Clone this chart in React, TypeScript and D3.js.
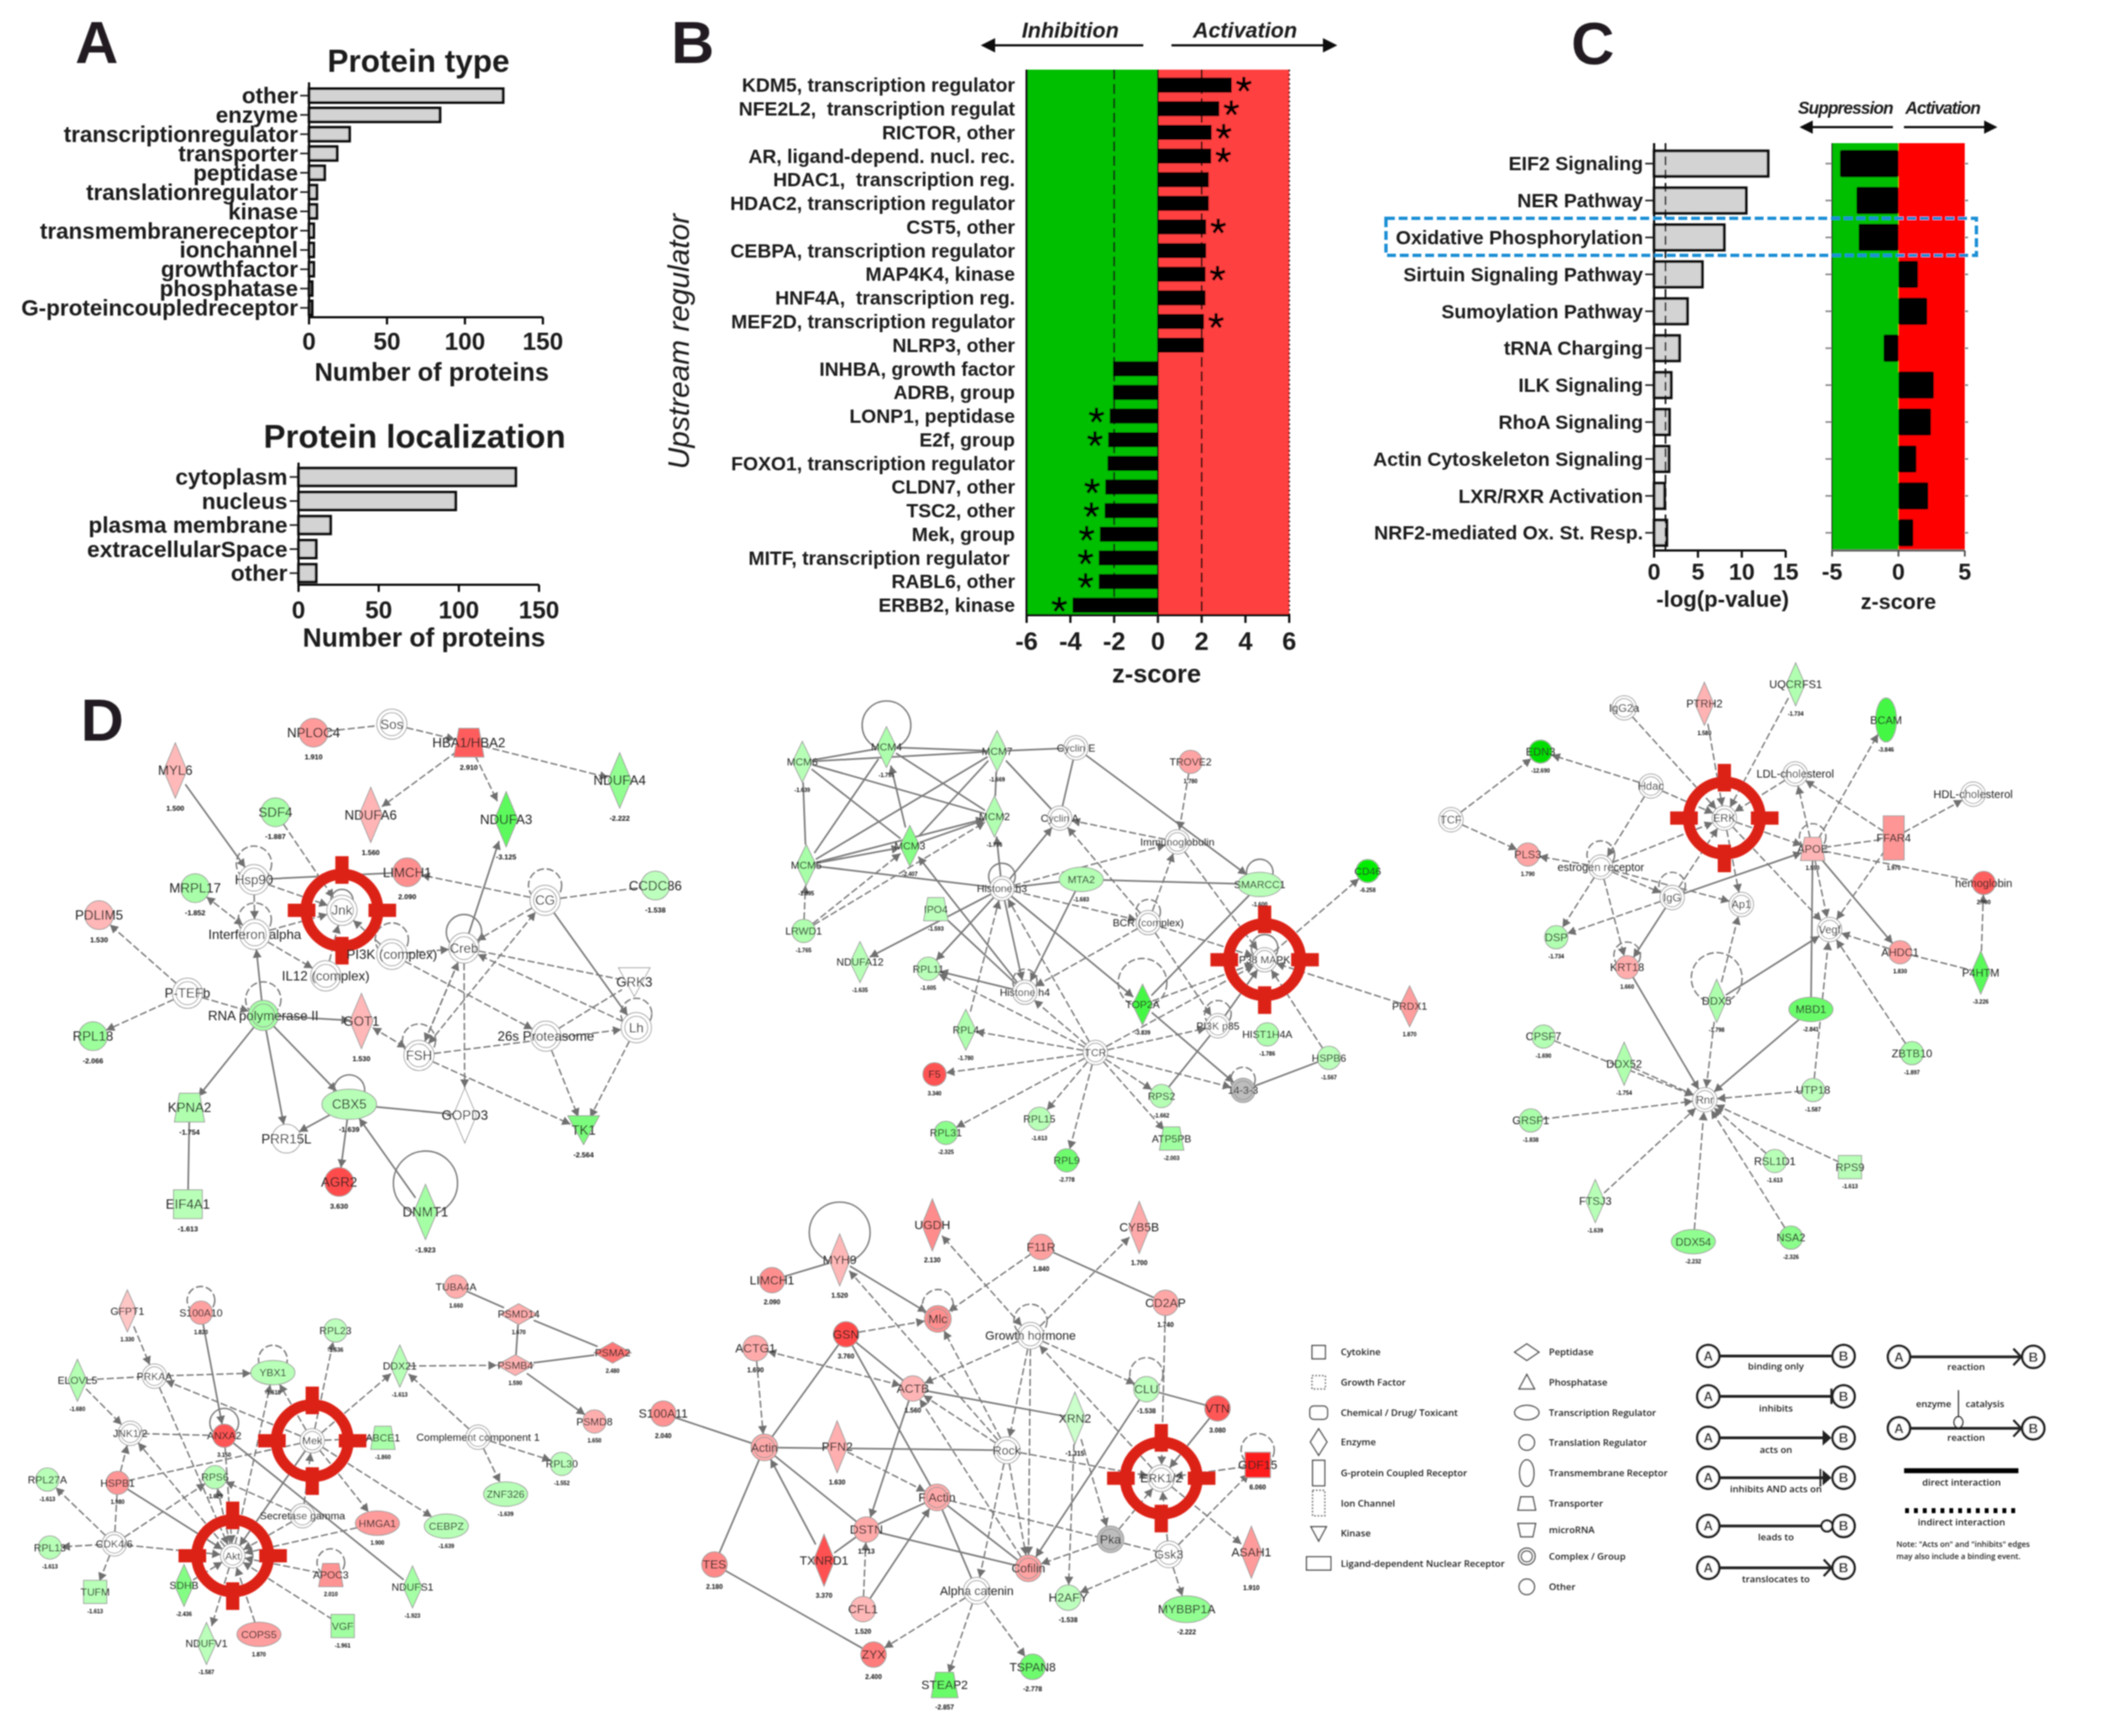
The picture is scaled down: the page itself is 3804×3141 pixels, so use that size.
import * as d3 from "d3";

const SANS = "'Liberation Sans', Arial, sans-serif";

// panel A
const typeLabels = ["other", "enzyme", "transcriptionregulator", "transporter", "peptidase", "translationregulator", "kinase", "transmembranereceptor", "ionchannel", "growthfactor", "phosphatase", "G-proteincoupledreceptor"];
const typeCounts = [124.5, 84, 26, 18, 10, 5, 5, 3, 3, 3, 2, 2];
const locLabels = ["cytoplasm", "nucleus", "plasma membrane", "extracellularSpace", "other"];
const locCounts = [135.5, 98, 20, 11, 11];
const countTicks = [0, 50, 100, 150];

// panel B
const regLabels = ["KDM5, transcription regulator", "NFE2L2,  transcription regulat", "RICTOR, other", "AR, ligand-depend. nucl. rec.", "HDAC1,  transcription reg.", "HDAC2, transcription regulator", "CST5, other", "CEBPA, transcription regulator", "MAP4K4, kinase", "HNF4A,  transcription reg.", "MEF2D, transcription regulator", "NLRP3, other", "INHBA, growth factor", "ADRB, group", "LONP1, peptidase", "E2f, group", "FOXO1, transcription regulator", "CLDN7, other", "TSC2, other", "Mek, group", "MITF, transcription regulator ", "RABL6, other", "ERBB2, kinase"];
const regZ = [3.37, 2.8, 2.45, 2.43, 2.32, 2.32, 2.2, 2.2, 2.17, 2.17, 2.1, 2.1, -2.05, -2.05, -2.2, -2.27, -2.3, -2.4, -2.43, -2.65, -2.7, -2.7, -3.9];
const regSig = [1, 1, 1, 1, 0, 0, 1, 0, 1, 0, 1, 0, 0, 0, 1, 1, 0, 1, 1, 1, 1, 1, 1];
const zTicksB = [-6, -4, -2, 0, 2, 4, 6];

// panel C
const pathLabels = ["EIF2 Signaling", "NER Pathway", "Oxidative Phosphorylation", "Sirtuin Signaling Pathway", "Sumoylation Pathway", "tRNA Charging", "ILK Signaling", "RhoA Signaling", "Actin Cytoskeleton Signaling", "LXR/RXR Activation", "NRF2-mediated Ox. St. Resp."];
const pathLogP = [13, 10.5, 8, 5.5, 3.8, 2.9, 1.95, 1.75, 1.7, 1.2, 1.45];
const pathZ = [-4.4, -3.16, -3, 1.47, 2.17, -1.12, 2.67, 2.45, 1.35, 2.25, 1.12];
const logTicks = [0, 5, 10, 15];
const zTicksC = [-5, 0, 5];

type N = [string, number | null, string, number, number];
type E = [string, string, string];
type L = [string, string, number];

const net1Nodes: N[] = [
  ["NPLOC4", 1.91, "c", 637, 113], ["Sos", 0, "g", 830, 90], ["HBA1/HBA2", 2.91, "t", 1020, 140], ["MYL6", 1.5, "d", 296, 215], ["NDUFA4", -2.222, "d", 1392, 242],
  ["SDF4", -1.887, "c", 543, 328], ["NDUFA6", 1.56, "d", 778, 335], ["NDUFA3", -3.125, "d", 1112, 347], ["LIMCH1", 2.09, "c", 868, 490], ["Hsp90", 0, "g", 490, 510],
  ["MRPL17", -1.852, "c", 345, 533], ["CCDC86", -1.538, "c", 1480, 526], ["CG", 0, "g", 1208, 566], ["Jnk", 0, "g", 707, 593], ["PDLIM5", 1.53, "c", 108, 606],
  ["Interferon alpha", 0, "g", 492, 658], ["PI3K (complex)", 0, "g", 830, 712], ["Creb", 0, "g", 1008, 695], ["IL12 (complex)", 0, "g", 667, 770], ["GRK3", 0, "k", 1428, 787],
  ["P-TEFb", 0, "g", 326, 817], ["RNA polymerase II", -1.9, "g", 513, 877], ["GOT1", 1.53, "d", 755, 892], ["FSH", 0, "g", 897, 985], ["26s Proteasome", 0, "g", 1210, 933],
  ["Lh", 0, "g", 1433, 910], ["RPL18", -2.066, "c", 93, 933], ["KPNA2", -1.754, "t", 331, 1126], ["CBX5", -1.639, "e", 725, 1117], ["GOPD3", 0, "d", 1010, 1147],
  ["TK1", -2.564, "k", 1303, 1187], ["PRR15L", 0, "c", 570, 1210], ["AGR2", 3.63, "c", 700, 1327], ["EIF4A1", -1.613, "s", 327, 1387], ["DNMT1", -1.923, "d", 913, 1408],
];
const net1Edges: E[] = [
  ["NPLOC4", "Sos", "d"], ["Sos", "HBA1/HBA2", "d>"], ["HBA1/HBA2", "NDUFA4", "d>"], ["HBA1/HBA2", "NDUFA6", "d>"], ["HBA1/HBA2", "NDUFA3", "d>"], ["MYL6", "Hsp90", "s>"],
  ["SDF4", "Jnk", "d>"], ["Hsp90", "LIMCH1", "s"], ["Hsp90", "Jnk", "d>"], ["CG", "LIMCH1", "d>"], ["CG", "CCDC86", "d"], ["CG", "Creb", "d>"], ["Creb", "NDUFA3", "s>"],
  ["Interferon alpha", "Jnk", "d>"], ["Hsp90", "Interferon alpha", "d>"], ["Interferon alpha", "MRPL17", "d<>"], ["Interferon alpha", "IL12 (complex)", "d>"], ["PI3K (complex)", "Jnk", "d>"],
  ["PI3K (complex)", "Creb", "d>"], ["IL12 (complex)", "Jnk", "d>"], ["RNA polymerase II", "Interferon alpha", "s>"], ["P-TEFb", "PDLIM5", "d>"], ["P-TEFb", "RPL18", "d>"],
  ["P-TEFb", "RNA polymerase II", "d>"], ["RNA polymerase II", "GOT1", "s>"], ["RNA polymerase II", "KPNA2", "s>"], ["RNA polymerase II", "PRR15L", "s>"], ["RNA polymerase II", "CBX5", "s>"],
  ["CBX5", "PRR15L", "s>"], ["CBX5", "AGR2", "s>"], ["CBX5", "GOPD3", "s"], ["DNMT1", "CBX5", "s>"], ["KPNA2", "EIF4A1", "s"], ["GOT1", "FSH", "d<>"], ["FSH", "Creb", "d>"],
  ["Creb", "FSH", "d>"], ["FSH", "CG", "d<>"], ["FSH", "Lh", "d>"], ["FSH", "TK1", "d>"], ["Creb", "GOPD3", "d>"], ["Creb", "GRK3", "d"], ["PI3K (complex)", "26s Proteasome", "d>"],
  ["Lh", "Creb", "d>"], ["26s Proteasome", "GRK3", "d"], ["26s Proteasome", "TK1", "d>"], ["Lh", "TK1", "d>"], ["CG", "Lh", "s>"],
];
const net1Loops: L[] = [["Hsp90", "d", 32], ["Interferon alpha", "d", 30], ["Jnk", "s", 20], ["PI3K (complex)", "d", 30], ["Creb", "s", 32], ["CG", "d", 30], ["RNA polymerase II", "d", 32], ["FSH", "d", 30], ["Lh", "d", 28], ["CBX5", "s", 28], ["DNMT1", "s", 58]];

const net2Nodes: N[] = [
  ["MCM6", -1.639, "d", 127, 212], ["MCM4", -1.795, "d", 318, 168], ["MCM7", -1.669, "d", 569, 180], ["Cyclin E", 0, "g", 748, 170], ["TROVE2", 1.78, "c", 1008, 212],
  ["MCM2", -1.736, "d", 563, 375], ["Cyclin A", 0, "g", 711, 380], ["Immunoglobulin", 0, "g", 978, 451], ["MCM5", -1.895, "d", 136, 520], ["MCM3", -2.407, "d", 371, 463],
  ["Histone h3", 0, "g", 580, 590], ["MTA2", -1.683, "e", 760, 563], ["SMARCC1", -1.6, "e", 1165, 578], ["CD46", -6.258, "c", 1410, 538], ["IPO4", -1.593, "t", 430, 652],
  ["LRWD1", -1.765, "c", 130, 717], ["BCR (complex)", 0, "g", 912, 692], ["P38 MAPK", 0, "g", 1176, 803], ["NDUFA12", -1.635, "d", 258, 810], ["RPL11", -1.605, "c", 413, 830],
  ["Histone h4", 0, "g", 632, 900], ["TOP2A", -3.839, "d", 899, 937], ["PRDX1", 1.87, "d", 1505, 942], ["RPL4", -1.78, "d", 498, 1012], ["PI3K p85", 0, "g", 1070, 1000],
  ["HIST1H4A", -1.786, "c", 1182, 1026], ["TCR", 0, "g", 792, 1080], ["HSPB6", -1.567, "c", 1322, 1096], ["F5", 3.34, "c", 427, 1145], ["14-3-3", null, "g", 1127, 1193],
  ["RPS2", -1.662, "c", 942, 1210], ["RPL15", -1.613, "c", 665, 1278], ["RPL31", -2.325, "c", 453, 1320], ["ATP5PB", -2.003, "t", 965, 1337], ["RPL9", -2.778, "c", 727, 1402],
];
const net2Edges: E[] = [
  ["MCM6", "MCM4", "s"], ["MCM6", "MCM7", "s"], ["MCM4", "MCM7", "s"], ["MCM7", "Cyclin E", "s"], ["MCM6", "MCM5", "s"], ["MCM6", "MCM3", "s"], ["MCM6", "MCM2", "s"], ["MCM4", "MCM5", "s"],
  ["MCM4", "MCM2", "s"], ["MCM5", "MCM3", "s>"], ["MCM5", "MCM7", "s"], ["MCM5", "MCM2", "s>"], ["MCM3", "MCM7", "s"], ["MCM3", "MCM2", "s>"], ["MCM3", "MCM4", "s>"], ["MCM7", "MCM2", "s"],
  ["MCM7", "Cyclin A", "s"], ["Cyclin E", "Cyclin A", "s"], ["Cyclin E", "SMARCC1", "s>"], ["MCM5", "Histone h3", "s"], ["LRWD1", "MCM5", "d>"], ["LRWD1", "MCM3", "d>"], ["LRWD1", "MCM2", "d>"],
  ["Histone h3", "MCM2", "s>"], ["Histone h3", "Cyclin A", "s>"], ["Histone h3", "MTA2", "s"], ["MTA2", "SMARCC1", "s"], ["MTA2", "Histone h4", "s>"], ["Histone h3", "Immunoglobulin", "d>"],
  ["Histone h3", "BCR (complex)", "d>"], ["BCR (complex)", "Immunoglobulin", "d>"], ["BCR (complex)", "Cyclin A", "d>"], ["Immunoglobulin", "Cyclin A", "d>"], ["TROVE2", "Immunoglobulin", "d>"],
  ["Immunoglobulin", "P38 MAPK", "d>"], ["SMARCC1", "TOP2A", "s"], ["BCR (complex)", "P38 MAPK", "d>"], ["BCR (complex)", "Histone h4", "d>"], ["P38 MAPK", "CD46", "d>"], ["PRDX1", "P38 MAPK", "d>"],
  ["Histone h3", "NDUFA12", "s>"], ["Histone h3", "RPL11", "s>"], ["Histone h3", "Histone h4", "s>"], ["Histone h3", "TOP2A", "s>"], ["Histone h4", "MCM3", "s>"], ["IPO4", "Histone h4", "s"],
  ["Histone h4", "RPL11", "s>"], ["TCR", "RPL11", "d>"], ["TCR", "Histone h4", "d>"], ["TCR", "Histone h3", "d>"], ["RPL4", "Histone h3", "d>"], ["TCR", "RPL4", "d>"], ["TCR", "F5", "d>"],
  ["TCR", "RPL31", "d>"], ["TCR", "RPL15", "d>"], ["TCR", "RPL9", "d>"], ["TCR", "ATP5PB", "d>"], ["TCR", "RPS2", "d>"], ["TCR", "14-3-3", "d>"], ["TCR", "PI3K p85", "d>"], ["TCR", "P38 MAPK", "d>"],
  ["TOP2A", "P38 MAPK", "d>"], ["TOP2A", "14-3-3", "s>"], ["PI3K p85", "P38 MAPK", "s>"], ["BCR (complex)", "PI3K p85", "d>"], ["RPS2", "PI3K p85", "s"], ["HSPB6", "14-3-3", "s"], ["HSPB6", "P38 MAPK", "d>"],
];
const net2Loops: L[] = [["MCM4", "s", 44], ["Histone h3", "s", 24], ["SMARCC1", "s", 24], ["BCR (complex)", "d", 22], ["P38 MAPK", "s", 24], ["Histone h4", "d", 22], ["TOP2A", "d", 44], ["PI3K p85", "d", 24], ["14-3-3", "d", 22]];

const net3Nodes: N[] = [
  ["UQCRFS1", -1.734, "d", 844, 52], ["PTRH2", 1.58, "d", 629, 100], ["IgG2a", 0, "g", 440, 110], ["BCAM", -3.846, "m", 1057, 140], ["EDN3", -12.69, "c", 243, 218],
  ["Hdac", 0, "g", 503, 303], ["LDL-cholesterol", 0, "g", 843, 273], ["HDL-cholesterol", 0, "g", 1262, 323], ["TCF", 0, "g", 32, 386], ["ERK", 0, "g", 676, 382],
  ["FFAR4", 1.97, "r", 1075, 431], ["APOE", 1.55, "t", 884, 458], ["PLS3", 1.79, "c", 213, 472], ["estrogen receptor", 0, "g", 385, 503], ["IgG", 0, "g", 553, 578],
  ["hemoglobin", 2.9, "c", 1287, 542], ["Ap1", 0, "g", 716, 595], ["DSP", -1.734, "c", 280, 676], ["Vegf", 0, "g", 924, 657], ["AHDC1", 1.83, "c", 1090, 713],
  ["KRT18", 1.66, "c", 447, 750], ["P4HTM", -3.226, "d", 1280, 763], ["DDX5", -1.798, "d", 658, 833], ["MBD1", -2.841, "e", 880, 854], ["CPSF7", -1.69, "c", 250, 921],
  ["ZBTB10", -1.897, "c", 1118, 962], ["DDX52", -1.754, "d", 440, 988], ["UTP18", -1.587, "c", 885, 1053], ["Rnr", 0, "g", 630, 1077], ["GRSF1", -1.838, "c", 220, 1128],
  ["RSL1D1", -1.613, "c", 795, 1228], ["RPS9", -1.613, "s", 972, 1243], ["FTSJ3", -1.639, "d", 372, 1327], ["DDX54", -2.232, "e", 603, 1427], ["NSA2", -2.326, "c", 833, 1417],
];
const net3Edges: E[] = [
  ["IgG2a", "ERK", "d>"], ["PTRH2", "ERK", "d>"], ["UQCRFS1", "ERK", "d>"], ["Hdac", "EDN3", "d>"], ["TCF", "EDN3", "d>"], ["TCF", "PLS3", "d>"], ["Hdac", "ERK", "d>"], ["Hdac", "estrogen receptor", "d>"],
  ["LDL-cholesterol", "ERK", "d>"], ["APOE", "LDL-cholesterol", "d>"], ["FFAR4", "LDL-cholesterol", "d>"], ["FFAR4", "HDL-cholesterol", "d>"], ["APOE", "FFAR4", "d"], ["APOE", "BCAM", "d>"],
  ["ERK", "APOE", "d>"], ["ERK", "Vegf", "d>"], ["ERK", "Ap1", "d>"], ["FFAR4", "Vegf", "d>"], ["APOE", "Vegf", "d>"], ["APOE", "AHDC1", "s>"], ["APOE", "hemoglobin", "d"], ["estrogen receptor", "ERK", "d>"],
  ["estrogen receptor", "PLS3", "d>"], ["estrogen receptor", "IgG", "d>"], ["estrogen receptor", "Ap1", "d>"], ["estrogen receptor", "DSP", "d>"], ["estrogen receptor", "KRT18", "d>"], ["IgG", "ERK", "d>"],
  ["IgG", "APOE", "s>"], ["IgG", "DSP", "d>"], ["IgG", "KRT18", "s>"], ["DDX5", "Ap1", "d>"], ["DDX5", "Vegf", "s>"], ["DDX5", "Rnr", "d>"], ["KRT18", "Rnr", "s>"], ["MBD1", "APOE", "s"], ["MBD1", "Rnr", "s>"],
  ["UTP18", "Vegf", "d>"], ["UTP18", "Rnr", "d>"], ["ZBTB10", "Vegf", "d>"], ["AHDC1", "Vegf", "d>"], ["AHDC1", "P4HTM", "d"], ["P4HTM", "hemoglobin", "d>"], ["CPSF7", "Rnr", "d>"], ["DDX52", "Rnr", "d>"],
  ["GRSF1", "Rnr", "d>"], ["FTSJ3", "Rnr", "d>"], ["DDX54", "Rnr", "d>"], ["NSA2", "Rnr", "d>"], ["RSL1D1", "Rnr", "d>"], ["RPS9", "Rnr", "d>"],
];
const net3Loops: L[] = [["estrogen receptor", "d", 25], ["IgG", "d", 24], ["KRT18", "d", 24], ["DDX5", "d", 46], ["APOE", "d", 24]];

const net4Nodes: N[] = [
  ["GFPT1", 1.33, "d", 301, 134], ["S100A10", 1.82, "c", 475, 140], ["RPL23", -1.536, "c", 793, 200], ["TUBA4A", 1.66, "c", 1078, 52], ["PSMD14", 1.67, "w", 1226, 145],
  ["PSMA2", 2.48, "w", 1448, 275], ["PSMB4", 1.59, "w", 1218, 317], ["DDX21", -1.613, "d", 945, 320], ["PRKAA", 0, "g", 365, 354], ["ELOVL5", -1.68, "d", 183, 368],
  ["YBX1", -1.618, "e", 645, 342], ["JNK1/2", 0, "g", 308, 547], ["ANXA2", 3.15, "c", 530, 555], ["Mek", 0, "g", 738, 572], ["ABCE1", -1.86, "t", 905, 562],
  ["Complement component 1", 0, "g", 1130, 560], ["PSMD8", 1.65, "c", 1405, 507], ["RPL30", -1.552, "c", 1328, 650], ["RPL27A", -1.613, "c", 112, 703], ["HSPB1", 1.98, "c", 278, 714],
  ["RPS6", -1.629, "c", 508, 695], ["ZNF326", -1.639, "e", 1195, 752], ["Secretase gamma", 0, "g", 715, 825], ["HMGA1", 1.9, "e", 892, 850], ["CEBPZ", -1.639, "e", 1055, 860],
  ["CDK4/6", 0, "g", 270, 920], ["RPL13", -1.613, "c", 118, 932], ["Akt", 0, "g", 550, 960], ["APOC3", 2.01, "t", 782, 1025], ["SDHB", -2.436, "d", 435, 1060],
  ["NDUFS1", -1.923, "d", 975, 1065], ["TUFM", -1.613, "s", 225, 1082], ["VGF", -1.961, "s", 810, 1197], ["COPS5", 1.87, "e", 612, 1225], ["NDUFV1", -1.587, "d", 488, 1256],
];
const net4Edges: E[] = [
  ["GFPT1", "PRKAA", "d>"], ["S100A10", "ANXA2", "s>"], ["ELOVL5", "PRKAA", "d"], ["PRKAA", "YBX1", "d>"], ["Mek", "YBX1", "d>"], ["Mek", "PRKAA", "d>"], ["Mek", "RPL23", "d>"], ["Mek", "DDX21", "d>"],
  ["Mek", "ABCE1", "d"], ["Mek", "HMGA1", "d>"], ["Mek", "CEBPZ", "d>"], ["ELOVL5", "JNK1/2", "d>"], ["JNK1/2", "ANXA2", "d"], ["PRKAA", "Akt", "d>"], ["ANXA2", "NDUFS1", "s"], ["ANXA2", "Akt", "d>"],
  ["Mek", "HSPB1", "d"], ["HSPB1", "JNK1/2", "d>"], ["Mek", "Akt", "s>"], ["Akt", "JNK1/2", "d>"], ["Akt", "YBX1", "d>"], ["Akt", "RPS6", "d>"], ["Secretase gamma", "RPS6", "d>"], ["Secretase gamma", "Mek", "d>"],
  ["Secretase gamma", "Akt", "d>"], ["CDK4/6", "RPL27A", "d>"], ["CDK4/6", "RPL13", "d>"], ["CDK4/6", "TUFM", "d>"], ["CDK4/6", "HSPB1", "d"], ["CDK4/6", "RPS6", "d>"], ["CDK4/6", "Akt", "d>"], ["HSPB1", "Akt", "s>"],
  ["HMGA1", "Akt", "d>"], ["APOC3", "Akt", "d>"], ["SDHB", "Akt", "d>"], ["Akt", "NDUFV1", "d>"], ["COPS5", "Akt", "d>"], ["VGF", "Akt", "d>"], ["Complement component 1", "DDX21", "d>"],
  ["Complement component 1", "RPL30", "d>"], ["Complement component 1", "ZNF326", "d>"], ["DDX21", "PSMB4", "d>"], ["TUBA4A", "PSMD14", "s"], ["PSMD14", "PSMA2", "s"], ["PSMD14", "PSMB4", "s"], ["PSMB4", "PSMA2", "s"], ["PSMB4", "PSMD8", "s>"],
];
const net4Loops: L[] = [["S100A10", "d", 25], ["YBX1", "d", 26], ["ANXA2", "s", 26], ["APOC3", "d", 25]];

const net5Nodes: N[] = [
  ["UGDH", 2.13, "d", 701, 105], ["F11R", 1.84, "c", 958, 168], ["CYB5B", 1.7, "d", 1190, 112], ["MYH9", 1.52, "d", 482, 205], ["LIMCH1", 2.09, "c", 322, 263], ["CD2AP", 1.74, "c", 1252, 328],
  ["Mlc", 2.1, "g", 714, 374], ["GSN", 3.76, "c", 497, 418], ["Growth hormone", 0, "g", 933, 422], ["ACTG1", 1.69, "c", 283, 458], ["ACTB", 1.56, "c", 655, 573], ["CLU", -1.538, "c", 1207, 575],
  ["VTN", 3.08, "c", 1375, 630], ["S100A11", 2.04, "c", 65, 645], ["XRN2", -1.315, "d", 1038, 658], ["Actin", 1.7, "g", 304, 742], ["PFN2", 1.63, "d", 476, 740], ["Rock", 0, "g", 877, 750],
  ["ERK1/2", 0, "g", 1242, 830], ["GDF15", 6.06, "s", 1470, 792], ["F Actin", 1.7, "g", 712, 885], ["DSTN", 1.713, "c", 545, 977], ["Pka", null, "g", 1122, 1005], ["Gsk3", 0, "g", 1260, 1048],
  ["ASAH1", 1.91, "d", 1455, 1042], ["TES", 2.18, "c", 186, 1077], ["TXNRD1", 3.37, "d", 445, 1065], ["Cofilin", 1.8, "g", 928, 1088], ["Alpha catenin", 0, "g", 806, 1152], ["H2AFY", -1.538, "c", 1022, 1172],
  ["CFL1", 1.52, "c", 537, 1205], ["MYBBP1A", -2.222, "e", 1302, 1205], ["ZYX", 2.4, "c", 562, 1335], ["TSPAN8", -2.778, "c", 938, 1370], ["STEAP2", -2.857, "t", 730, 1422],
];
const net5Edges: E[] = [
  ["LIMCH1", "MYH9", "s"], ["MYH9", "Mlc", "s>"], ["Rock", "MYH9", "d>"], ["Growth hormone", "UGDH", "d<>"], ["Growth hormone", "CYB5B", "d>"], ["F11R", "Mlc", "d>"], ["F11R", "CD2AP", "s"], ["GSN", "Mlc", "d>"],
  ["Rock", "Mlc", "d>"], ["Growth hormone", "ACTB", "d>"], ["Growth hormone", "CLU", "d>"], ["Growth hormone", "Rock", "d>"], ["Growth hormone", "Cofilin", "d>"], ["ERK1/2", "Growth hormone", "d>"],
  ["ACTG1", "ACTB", "d<>"], ["ACTG1", "Actin", "d>"], ["GSN", "Actin", "s"], ["GSN", "ACTB", "s"], ["GSN", "F Actin", "s"], ["S100A11", "Actin", "s"], ["Actin", "Rock", "s"], ["ACTB", "DSTN", "s>"], ["ACTB", "XRN2", "s"],
  ["Rock", "ACTB", "d>"], ["Cofilin", "ACTB", "d>"], ["Actin", "DSTN", "s"], ["TXNRD1", "Actin", "s>"], ["TES", "Actin", "s"], ["TES", "ZYX", "s"], ["PFN2", "F Actin", "d>"], ["DSTN", "F Actin", "s"], ["DSTN", "TXNRD1", "s"],
  ["DSTN", "Cofilin", "s"], ["F Actin", "Cofilin", "s"], ["F Actin", "Alpha catenin", "s"], ["CFL1", "DSTN", "d>"], ["CFL1", "F Actin", "s>"], ["Rock", "Alpha catenin", "d>"], ["Rock", "Cofilin", "d>"], ["Rock", "ERK1/2", "d>"],
  ["CD2AP", "ERK1/2", "d>"], ["CLU", "VTN", "s"], ["VTN", "ERK1/2", "s>"], ["CLU", "Cofilin", "s>"], ["XRN2", "Pka", "d>"], ["XRN2", "H2AFY", "d>"], ["Pka", "ERK1/2", "d>"], ["Pka", "Cofilin", "d>"], ["F Actin", "Gsk3", "d"],
  ["Gsk3", "ERK1/2", "d>"], ["Gsk3", "GDF15", "d>"], ["GDF15", "ERK1/2", "d>"], ["ERK1/2", "ASAH1", "d>"], ["Gsk3", "H2AFY", "d>"], ["Gsk3", "MYBBP1A", "d>"], ["Alpha catenin", "ZYX", "d>"], ["Alpha catenin", "STEAP2", "d>"], ["Alpha catenin", "TSPAN8", "d>"],
];
const net5Loops: L[] = [["MYH9", "s", 55], ["Mlc", "d", 28], ["Growth hormone", "d", 30], ["CLU", "d", 30], ["GDF15", "d", 30]];

const networks = [
  { nodes: net1Nodes, edges: net1Edges, loops: net1Loops, targets: ["Jnk"], box: [100, 1250, 1150, 1050], font: 24, valueFont: 13, r: 26, dw: 21, dh: 50 },
  { nodes: net2Nodes, edges: net2Edges, loops: net2Loops, targets: ["P38 MAPK"], box: [1350, 1250, 1250, 950], font: 19, valueFont: 10, r: 21, dw: 18, dh: 37 },
  { nodes: net3Nodes, edges: net3Edges, loops: net3Loops, targets: ["ERK"], box: [2600, 1200, 1204, 1150], font: 20, valueFont: 10, r: 21, dw: 17, dh: 39 },
  { nodes: net4Nodes, edges: net4Edges, loops: net4Loops, targets: ["Mek", "Akt"], box: [0, 2300, 1200, 841], font: 19, valueFont: 10, r: 21, dw: 17, dh: 38 },
  { nodes: net5Nodes, edges: net5Edges, loops: net5Loops, targets: ["ERK1/2"], box: [1150, 2150, 1200, 991], font: 22, valueFont: 12, r: 23, dw: 19, dh: 47 },
];

// legend
const legendShapes = [
  ["Cytokine", "s", 38, 135], ["Growth Factor", "sd", 38, 293], ["Chemical / Drug/ Toxicant", "rr", 38, 453], ["Enzyme", "d", 38, 607], ["G-protein Coupled Receptor", "r", 38, 770],
  ["Ion Channel", "rd", 38, 928], ["Kinase", "k", 38, 1087], ["Ligand-dependent Nuclear Receptor", "wr", 38, 1245], ["Peptidase", "w", 444, 135], ["Phosphatase", "tri", 444, 293],
  ["Transcription Regulator", "e", 444, 452], ["Translation Regulator", "c", 444, 610], ["Transmembrane Receptor", "m", 444, 770], ["Transporter", "t", 444, 930], ["microRNA", "u", 444, 1070],
  ["Complex / Group", "g", 444, 1208], ["Other", "c", 444, 1368],
] as [string, string, number, number][];
const legendLinks = [
  ["binding only", "none", 798, 1062, 155, 210], ["inhibits", "bar", 798, 1062, 367, 430], ["acts on", "arrow", 798, 1062, 585, 647], ["inhibits AND acts on", "bararrow", 798, 1062, 795, 853],
  ["leads to", "ring", 798, 1062, 1048, 1107], ["translocates to", "cross", 798, 1062, 1268, 1327], ["reaction", "x", 1170, 1432, 160, 213], ["reaction", "x", 1170, 1432, 535, 585],
] as [string, string, number, number, number, number][];
const legendNote = ["Note: \"Acts on\" and \"inhibits\" edges", "may also include a binding event."];

const tone = d3.scaleLinear<string>()
  .domain([-12, -6, -3, -2, -1.3, 1.3, 2, 3, 6])
  .range(["#00e000", "#00ee00", "#60fa60", "#a0ffa0", "#ccffcc", "#ffc8c8", "#ff9494", "#ff5858", "#ff2020"]);

function BarPanel({ labels, values, ticks, xr, yr, bar, top, bottom, labelFont, tickFont, tickY, title, titleFont, titleY, titleX, sw }: any) {
  const x = d3.scaleLinear().domain([ticks[0], ticks[ticks.length - 1]]).range(xr);
  const y = d3.scalePoint<string>().domain(labels).range(yr);
  return (
    <g fontFamily={SANS} fontWeight="bold" fill="#1a1a1a">
      {labels.map((l: string, i: number) => (
        <g key={l}>
          <rect x={x(0)} y={y(l)! - bar / 2} width={x(values[i]) - x(0)} height={bar} fill="#d3d3d3" stroke="#111" strokeWidth={sw} />
          <line x1={x(0) - 16} x2={x(0)} y1={y(l)} y2={y(l)} stroke="#222" strokeWidth={3} />
          <text x={x(0) - 20} y={y(l)} dy="0.35em" textAnchor="end" fontSize={labelFont}>{l}</text>
        </g>
      ))}
      <line x1={x(0)} x2={x(0)} y1={top} y2={bottom} stroke="#111" strokeWidth={4} />
      <line x1={x(0)} x2={xr[1]} y1={bottom} y2={bottom} stroke="#111" strokeWidth={4} />
      {ticks.map((t: number) => (
        <g key={t}>
          <line x1={x(t)} x2={x(t)} y1={bottom} y2={bottom + 13} stroke="#111" strokeWidth={4} />
          <text x={x(t)} y={tickY} dy="0.35em" textAnchor="middle" fontSize={tickFont}>{t}</text>
        </g>
      ))}
      <text x={titleX} y={titleY} dy="0.35em" textAnchor="middle" fontSize={titleFont}>{title}</text>
    </g>
  );
}

function Arrow({ x1, x2, y, w }: { x1: number; x2: number; y: number; w: number }) {
  const dir = x2 > x1 ? 1 : -1;
  const hl = 2 * w;
  return (
    <g>
      <line x1={x1} x2={x2 - dir * hl} y1={y} y2={y} stroke="#111" strokeWidth={4} />
      <path d={`M${x2},${y}L${x2 - dir * hl},${y - w}L${x2 - dir * hl},${y + w}Z`} fill="#111" />
    </g>
  );
}

// five-armed asterisk, the significance mark of panel B
const starArms = d3.range(5).map((i) => (i * 2 * Math.PI) / 5);

function Star({ cx, cy }: { cx: number; cy: number }) {
  const d = starArms.map((a) => `M${cx},${cy}L${cx + 14 * Math.sin(a)},${cy - 14 * Math.cos(a)}`).join("");
  return <path d={d} fill="none" stroke="#000" strokeWidth={5.5} />;
}

function PanelB() {
  const x = d3.scaleLinear().domain([-6, 6]).range([1857, 2332]);
  const y = d3.scalePoint<string>().domain(regLabels).range([154, 1095]);
  const top = 126;
  const bottom = 1113;
  return (
    <g fontFamily={SANS} fontWeight="bold" fill="#1a1a1a">
      <rect x={x(-6)} y={top} width={x(0) - x(-6)} height={bottom - top} fill="#00be00" />
      <rect x={x(0)} y={top} width={x(6) - x(0)} height={bottom - top} fill="#ff4040" />
      {[-2, 2].map((t) => <line key={t} x1={x(t)} x2={x(t)} y1={top} y2={bottom} stroke="#111" strokeWidth={3} strokeDasharray="18 8" />)}
      <line x1={x(6)} x2={x(6)} y1={top} y2={bottom} stroke="#111" strokeWidth={3} strokeDasharray="3 5" />
      <line x1={x(-6)} x2={x(-6)} y1={top} y2={bottom} stroke="#111" strokeWidth={4} />
      <line x1={x(0)} x2={x(0)} y1={top} y2={bottom} stroke="#111" strokeWidth={3} />
      {regLabels.map((l, i) => {
        const v = regZ[i];
        const edge = x(v);
        return (
          <g key={l}>
            <rect x={Math.min(x(0), edge)} y={y(l)! - 13.5} width={Math.abs(edge - x(0))} height={27} fill="#000" />
            <text x={1836} y={y(l)} dy="0.35em" textAnchor="end" fontSize={35} style={{ whiteSpace: "pre" }}>{l}</text>
            {regSig[i] ? <Star cx={edge + (v > 0 ? 22 : -24)} cy={y(l)! - 1} /> : null}
          </g>
        );
      })}
      <line x1={x(-6) - 2} x2={x(6) + 2} y1={bottom} y2={bottom} stroke="#111" strokeWidth={4} />
      {zTicksB.map((t) => (
        <g key={t}>
          <line x1={x(t)} x2={x(t)} y1={bottom} y2={bottom + 14} stroke="#111" strokeWidth={4} />
          <text x={x(t)} y={1160} dy="0.35em" textAnchor="middle" fontSize={46}>{t}</text>
        </g>
      ))}
      <text x={2092} y={1219} dy="0.35em" textAnchor="middle" fontSize={46}>z-score</text>
      <text transform="translate(1246,618) rotate(-90)" textAnchor="middle" fontSize={54} fontWeight="normal" fontStyle="italic">Upstream regulator</text>
      <text x={1936} y={68} textAnchor="middle" fontSize={39} fontStyle="italic">Inhibition</text>
      <text x={2252} y={68} textAnchor="middle" fontSize={39} fontStyle="italic">Activation</text>
      <Arrow x1={2068} x2={1774} y={82} w={13} />
      <Arrow x1={2119} x2={2419} y={82} w={13} />
    </g>
  );
}

function PanelC() {
  const xp = d3.scaleLinear().domain([0, 15]).range([2992, 3230]);
  const xz = d3.scaleLinear().domain([-5, 5]).range([3314, 3554]);
  const y = d3.scalePoint<string>().domain(pathLabels).range([296, 964]);
  const top = 259;
  const bottom = 996;
  return (
    <g fontFamily={SANS} fontWeight="bold" fill="#1a1a1a">
      <BarPanel labels={pathLabels} values={pathLogP} ticks={logTicks} xr={[2992, 3230]} yr={[296, 964]} bar={46} top={top} bottom={bottom} labelFont={35.3} tickFont={42} tickY={1034} title="-log(p-value)" titleFont={40} titleY={1084} titleX={3116} sw={5} />
      <line x1={xp(1.3)} x2={xp(1.3)} y1={top} y2={bottom} stroke="#111" strokeWidth={3} strokeDasharray="16 8" />
      <rect x={xz(-5)} y={top} width={xz(0) - xz(-5)} height={bottom - top} fill="#00be00" />
      <rect x={xz(0)} y={top} width={xz(5) - xz(0)} height={bottom - top} fill="#ff0000" />
      {pathLabels.map((l, i) => (
        <g key={l}>
          <rect x={Math.min(xz(0), xz(pathZ[i]))} y={y(l)! - 24.5} width={Math.abs(xz(pathZ[i]) - xz(0))} height={49} fill="#000" rx={3} />
          <line x1={xz(-5) - 12} x2={xz(-5)} y1={y(l)} y2={y(l)} stroke="#888" strokeWidth={3} />
          <line x1={xz(5)} x2={xz(5) + 6} y1={y(l)} y2={y(l)} stroke="#888" strokeWidth={3} />
        </g>
      ))}
      <line x1={xz(-5)} x2={xz(-5)} y1={top} y2={bottom} stroke="#111" strokeWidth={2} />
      <line x1={xz(-5)} x2={xz(5)} y1={bottom} y2={bottom} stroke="#666" strokeWidth={4} />
      {zTicksC.map((t) => (
        <g key={t}>
          <line x1={xz(t)} x2={xz(t)} y1={bottom} y2={bottom + 11} stroke="#444" strokeWidth={3} />
          <text x={xz(t)} y={1034} dy="0.35em" textAnchor="middle" fontSize={42}>{t}</text>
        </g>
      ))}
      <text x={xz(0)} y={1088} dy="0.35em" textAnchor="middle" fontSize={39}>z-score</text>
      <text x={3338} y={206} textAnchor="middle" fontSize={31} fontStyle="italic" letterSpacing={-1.5}>Suppression</text>
      <text x={3514} y={206} textAnchor="middle" fontSize={31} fontStyle="italic" letterSpacing={-1.5}>Activation</text>
      <Arrow x1={3424} x2={3255} y={230} w={12} />
      <Arrow x1={3444} x2={3613} y={230} w={12} />
      <rect x={2507} y={395} width={1068} height={67} fill="none" stroke="#1e8fd5" strokeWidth={6} strokeDasharray="16 7" />
    </g>
  );
}

function nodeBox(shape: string, net: any): [number, number] {
  const r = net.r;
  if (shape === "d") return [net.dw, net.dh];
  if (shape === "e") return [r * 1.9, r * 1.05];
  if (shape === "m") return [r * 0.9, r * 1.9];
  if (shape === "r") return [r * 0.9, r * 1.9];
  if (shape === "w") return [r * 1.6, r * 0.9];
  if (shape === "g") return [r * 1.05, r * 1.05];
  return [r, r];
}

function NodeMark({ shape, net, fill, cx, cy }: any) {
  const [hw, hh] = nodeBox(shape, net);
  const common = { fill, stroke: "#9a9a9a", strokeWidth: 1.5 };
  if (shape === "g") {
    return (
      <g {...common}>
        <circle cx={cx} cy={cy} r={hw} />
        <circle cx={cx} cy={cy} r={hw * 0.76} />
      </g>
    );
  }
  if (shape === "c" || shape === "e" || shape === "m") return <ellipse cx={cx} cy={cy} rx={hw} ry={hh} {...common} />;
  if (shape === "d" || shape === "w") return <path d={`M${cx},${cy - hh}L${cx + hw},${cy}L${cx},${cy + hh}L${cx - hw},${cy}Z`} {...common} />;
  if (shape === "t") return <path d={`M${cx - hw * 0.7},${cy - hh}L${cx + hw * 0.7},${cy - hh}L${cx + hw * 1.05},${cy + hh}L${cx - hw * 1.05},${cy + hh}Z`} {...common} />;
  if (shape === "k") return <path d={`M${cx - hw * 1.1},${cy - hh}L${cx + hw * 1.1},${cy - hh}L${cx},${cy + hh}Z`} {...common} />;
  return <rect x={cx - hw} y={cy - hh} width={2 * hw} height={2 * hh} {...common} />;
}

function Target({ cx, cy }: { cx: number; cy: number }) {
  const red = "#dc2318";
  return (
    <g fill={red}>
      <circle cx={cx} cy={cy} r={65} fill="none" stroke={red} strokeWidth={20} />
      <rect x={cx - 12} y={cy - 98} width={24} height={50} />
      <rect x={cx - 12} y={cy + 48} width={24} height={50} />
      <rect x={cx - 98} y={cy - 12} width={50} height={24} />
      <rect x={cx + 48} y={cy - 12} width={50} height={24} />
    </g>
  );
}

function Network({ net }: { net: any }) {
  const [bx, by, bw, bh] = net.box;
  const px = d3.scaleLinear().domain([0, 1568]).range([bx, bx + bw]);
  const py = d3.scaleLinear().domain([0, 1568]).range([by, by + bh]);
  const byName = new Map<string, N>(net.nodes.map((n: N) => [n[0], n]));
  const gray = "#6f6f6f";
  const head = 15;

  const arrowAt = (tx: number, ty: number, ux: number, uy: number, key: string) => (
    <path key={key} d={`M${tx},${ty}L${tx - ux * head - uy * 8},${ty - uy * head + ux * 8}L${tx - ux * head + uy * 8},${ty - uy * head - ux * 8}Z`} fill={gray} />
  );

  return (
    <g filter="url(#soft)">
      {net.edges.map(([a, b, kind]: E, i: number) => {
        const na = byName.get(a)!;
        const nb = byName.get(b)!;
        const ax = px(na[3]), ay = py(na[4]), cx = px(nb[3]), cy = py(nb[4]);
        const len = Math.hypot(cx - ax, cy - ay);
        const ux = (cx - ax) / len, uy = (cy - ay) / len;
        const [aw, ah] = nodeBox(na[2], net);
        const [bw2, bh2] = nodeBox(nb[2], net);
        const ta = 1 / Math.hypot(ux / aw, uy / ah);
        const tb = 1 / Math.hypot(ux / bw2, uy / bh2);
        const sx = ax + ux * ta, sy = ay + uy * ta, ex = cx - ux * tb, ey = cy - uy * tb;
        const both = kind.includes("<");
        const end = kind.includes(">");
        return (
          <g key={i}>
            <line x1={sx} y1={sy} x2={ex} y2={ey} stroke="#7a7a7a" strokeWidth={kind[0] === "s" ? 3 : 2.6} strokeDasharray={kind[0] === "d" ? "13 5" : undefined} />
            {end ? arrowAt(ex, ey, ux, uy, "e") : null}
            {both ? arrowAt(sx, sy, -ux, -uy, "s") : null}
          </g>
        );
      })}
      {net.loops.map(([name, kind, r]: L) => {
        const n = byName.get(name)!;
        return <circle key={name} cx={px(n[3])} cy={py(n[4]) - r * 0.9} r={r} fill="none" stroke="#7a7a7a" strokeWidth={2.6} strokeDasharray={kind === "d" ? "13 5" : undefined} />;
      })}
      {net.targets.map((t: string) => {
        const n = byName.get(t)!;
        return <Target key={t} cx={px(n[3])} cy={py(n[4])} />;
      })}
      {net.nodes.map((n: N) => {
        const [name, z, shape, nx, ny] = n;
        const cx = px(nx), cy = py(ny);
        const fill = z === null ? "#bdbdbd" : z === 0 ? "#fff" : tone(z);
        const [, hh] = nodeBox(shape, net);
        return (
          <g key={name} fontFamily={SANS} textAnchor="middle">
            <NodeMark shape={shape} net={net} fill={fill} cx={cx} cy={cy} />
            <text x={cx} y={cy} dy="0.35em" fontSize={net.font} fill="#222">{name}</text>
            {shape !== "g" && z ? <text x={cx} y={cy + hh + net.valueFont * 1.4} dy="0.35em" fontSize={net.valueFont} fontWeight="bold" fill="#111">{z.toFixed(3)}</text> : null}
          </g>
        );
      })}
    </g>
  );
}

function LegendMark({ shape, cx, cy }: { shape: string; cx: number; cy: number }) {
  const c = { fill: "#fff", stroke: "#555", strokeWidth: 2.5 };
  if (shape === "s") return <rect x={cx - 12} y={cy - 12} width={24} height={24} {...c} />;
  if (shape === "sd") return <rect x={cx - 12} y={cy - 12} width={24} height={24} {...c} strokeDasharray="3 3" />;
  if (shape === "rr") return <rect x={cx - 16} y={cy - 12} width={32} height={24} rx={7} {...c} />;
  if (shape === "d") return <path d={`M${cx},${cy - 24}L${cx + 15},${cy}L${cx},${cy + 24}L${cx - 15},${cy}Z`} {...c} />;
  if (shape === "r") return <rect x={cx - 11} y={cy - 23} width={22} height={46} {...c} />;
  if (shape === "rd") return <rect x={cx - 11} y={cy - 23} width={22} height={46} {...c} strokeDasharray="3 3" />;
  if (shape === "k") return <path d={`M${cx - 14},${cy - 12}L${cx + 14},${cy - 12}L${cx},${cy + 14}Z`} {...c} />;
  if (shape === "wr") return <rect x={cx - 22} y={cy - 12} width={44} height={24} {...c} />;
  if (shape === "w") return <path d={`M${cx},${cy - 15}L${cx + 22},${cy}L${cx},${cy + 15}L${cx - 22},${cy}Z`} {...c} />;
  if (shape === "tri") return <path d={`M${cx},${cy - 14}L${cx + 14},${cy + 12}L${cx - 14},${cy + 12}Z`} {...c} />;
  if (shape === "e") return <ellipse cx={cx} cy={cy} rx={22} ry={13} {...c} />;
  if (shape === "c") return <circle cx={cx} cy={cy} r={14} {...c} />;
  if (shape === "m") return <ellipse cx={cx} cy={cy} rx={13} ry={24} {...c} />;
  if (shape === "t") return <path d={`M${cx - 11},${cy - 12}L${cx + 11},${cy - 12}L${cx + 16},${cy + 12}L${cx - 16},${cy + 12}Z`} {...c} />;
  if (shape === "u") return <path d={`M${cx - 16},${cy - 12}L${cx + 16},${cy - 12}L${cx + 11},${cy + 12}L${cx - 11},${cy + 12}Z`} {...c} />;
  return (
    <g {...c}>
      <circle cx={cx} cy={cy} r={15} />
      <circle cx={cx} cy={cy} r={10} />
    </g>
  );
}

function Legend() {
  const lx = d3.scaleLinear().domain([0, 1568]).range([2350, 3804]);
  const ly = d3.scaleLinear().domain([0, 1568]).range([2400, 2940]);
  const fs = 17;
  const ink = "#222";
  const AB = ({ cx, cy, t }: any) => (
    <g>
      <circle cx={cx} cy={cy} r={20} fill="#fff" stroke={ink} strokeWidth={4.5} />
      <text x={cx} y={cy} dy="0.35em" textAnchor="middle" fontSize={24} fontFamily={SANS} fill={ink}>{t}</text>
    </g>
  );
  return (
    <g filter="url(#soft)" fontFamily="'Open Sans', sans-serif" fontWeight="600" fontSize={fs} fill={ink}>
      {legendShapes.map(([name, shape, sx, sy]) => (
        <g key={name}>
          <LegendMark shape={shape} cx={lx(sx)} cy={ly(sy)} />
          <text x={lx(sx) + 40} y={ly(sy)} dy="0.35em">{name}</text>
        </g>
      ))}
      {legendLinks.map(([name, kind, a, b, y, labelY], i) => {
        const x1 = lx(a), x2 = lx(b), yy = ly(y), stop = x2 - 22;
        const mark = kind === "arrow" || kind === "bararrow";
        return (
          <g key={i}>
            <line x1={x1 + 20} x2={mark ? stop - 12 : stop} y1={yy} y2={yy} stroke={ink} strokeWidth={5} />
            {kind === "bar" ? <line x1={stop} x2={stop} y1={yy - 14} y2={yy + 14} stroke={ink} strokeWidth={4} /> : null}
            {mark ? <path d={`M${stop - 16},${yy - 14}L${stop},${yy}L${stop - 16},${yy + 14}Z`} fill={ink} /> : null}
            {kind === "bararrow" ? <line x1={stop - 20} x2={stop - 20} y1={yy - 16} y2={yy + 16} stroke={ink} strokeWidth={3} /> : null}
            {kind === "ring" ? <circle cx={stop - 8} cy={yy} r={10} fill="#fff" stroke={ink} strokeWidth={4} /> : null}
            {kind === "cross" || kind === "x" ? <path d={`M${stop - 14},${yy - 15}L${stop},${yy}L${stop - 14},${yy + 15}`} fill="none" stroke={ink} strokeWidth={4} /> : null}
            <AB cx={x1} cy={yy} t="A" />
            <AB cx={x2} cy={yy} t="B" />
            <text x={(x1 + x2) / 2} y={ly(labelY)} dy="0.35em" textAnchor="middle">{name}</text>
          </g>
        );
      })}
      <line x1={lx(1286)} x2={lx(1286)} y1={ly(335)} y2={ly(490)} stroke={ink} strokeWidth={2} />
      <ellipse cx={lx(1286)} cy={ly(503)} rx={8} ry={10} fill="#fff" stroke={ink} strokeWidth={2.5} />
      <text x={lx(1272)} y={ly(407)} dy="0.35em" textAnchor="end">enzyme</text>
      <text x={lx(1300)} y={ly(407)} dy="0.35em">catalysis</text>
      <line x1={lx(1180)} x2={lx(1403)} y1={ly(758)} y2={ly(758)} stroke="#000" strokeWidth={9} />
      <text x={lx(1292)} y={ly(820)} dy="0.35em" textAnchor="middle">direct interaction</text>
      <line x1={lx(1182)} x2={lx(1403)} y1={ly(968)} y2={ly(968)} stroke="#000" strokeWidth={9} strokeDasharray="7 9" />
      <text x={lx(1292)} y={ly(1027)} dy="0.35em" textAnchor="middle">indirect interaction</text>
      {legendNote.map((t, i) => <text key={i} x={lx(1165)} y={ly(1145 + i * 62)} dy="0.35em" fontSize={14}>{t}</text>)}
    </g>
  );
}

const panelLetters = [["A", 136, 114], ["B", 1214, 114], ["C", 2842, 116], ["D", 146, 1340]] as [string, number, number][];

export default function App() {
  return (
    <svg width={3804} height={3141} viewBox="0 0 3804 3141" style={{ position: "absolute", left: 0, top: 0, background: "#fff" }}>
      <defs>
        <filter id="soft" x="-5%" y="-5%" width="110%" height="110%"><feGaussianBlur stdDeviation="1.1" /></filter>
        <filter id="softer" x="-5%" y="-5%" width="110%" height="110%"><feGaussianBlur stdDeviation="0.9" /></filter>
      </defs>
      <g filter="url(#softer)">
        {panelLetters.map(([t, x, y]) => <text key={t} x={x} y={y} fontFamily={SANS} fontWeight="bold" fontSize={108} fill="#231f20">{t}</text>)}
        <BarPanel labels={typeLabels} values={typeCounts} ticks={countTicks} xr={[559, 982]} yr={[173, 557]} bar={25} top={149} bottom={574} labelFont={40.6} tickFont={44} tickY={618} title="Number of proteins" titleFont={46} titleY={673} titleX={781} sw={5} />
        <text x={757} y={130} textAnchor="middle" fontFamily={SANS} fontWeight="bold" fontSize={57} fill="#1a1a1a">Protein type</text>
        <BarPanel labels={locLabels} values={locCounts} ticks={countTicks} xr={[540, 975]} yr={[863, 1037]} bar={32} top={837} bottom={1058} labelFont={41} tickFont={44} tickY={1104} title="Number of proteins" titleFont={47.6} titleY={1153} titleX={767} sw={5} />
        <text x={750} y={810} textAnchor="middle" fontFamily={SANS} fontWeight="bold" fontSize={59.6} fill="#1a1a1a">Protein localization</text>
        <PanelB />
        <PanelC />
      </g>
      {networks.map((net, i) => <Network key={i} net={net} />)}
      <Legend />
    </svg>
  );
}
